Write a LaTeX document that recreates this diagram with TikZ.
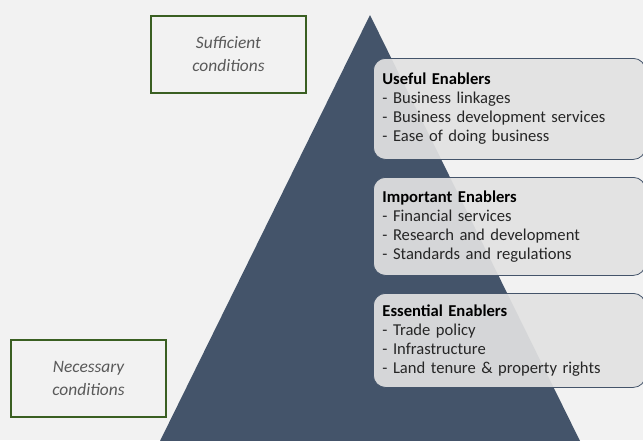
\documentclass[tikz,border=0pt]{standalone}
\usepackage{fontspec}
\setmainfont{Carlito}
\usepackage{xcolor}

\definecolor{slate}{HTML}{44546A}
\definecolor{pagebg}{HTML}{F2F2F2}
\definecolor{boxfill}{HTML}{E2E2E2}
\definecolor{darkgreen}{HTML}{3A5F22}
\definecolor{itemgray}{HTML}{262626}
\definecolor{notegray}{HTML}{595959}

\begin{document}
\begin{tikzpicture}[x=1pt,y=-1pt,
    enabler/.style={draw=slate, line width=0.8pt, fill=boxfill, fill opacity=0.92,
      text opacity=1, rounded corners=12pt, anchor=north west,
      minimum width=272pt, text width=254pt, inner xsep=9pt, inner ysep=0pt,
      align=left, text=itemgray, font=\fontsize{16.6}{19}\selectfont},
    condition/.style={draw=darkgreen, line width=2pt, minimum width=155pt,
      minimum height=77pt, align=center, text=notegray,
      font=\fontsize{17.4}{23}\selectfont\itshape}]
  % Background
  \useasboundingbox (0,0) rectangle (643,440);
  \fill[pagebg] (0,0) rectangle (643,440);

  % Pyramid
  \fill[slate] (370,15) -- (580,441) -- (160,441) -- cycle;

  % Conditions
  \node[condition] (suffbox) at (228.5,54) {Sufficient\\conditions};
  \node[condition] (necbox) at (88.5,378.5) {Necessary\\conditions};

  % Enablers
  \node[enabler, minimum height=101pt] (useful) at (373,58)
    {\textcolor{black}{\textbf{Useful Enablers}}\\- Business linkages\\
     - Business development services\\- Ease of doing business};
  \node[enabler, minimum height=98pt] (important) at (373,177)
    {\textcolor{black}{\textbf{Important Enablers}}\\- Financial services\\
     - Research and development\\- Standards and regulations};
  \node[enabler, minimum height=94pt] (essential) at (373,293)
    {\textcolor{black}{\textbf{Essential Enablers}}\\- Trade policy\\
     - Infrastructure\\- Land tenure \& property rights};
\end{tikzpicture}
\end{document}
